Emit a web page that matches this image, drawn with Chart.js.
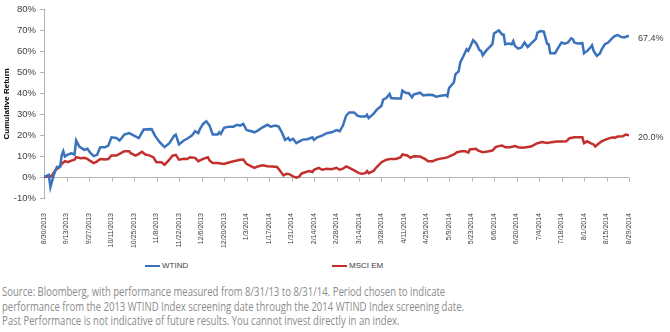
<!DOCTYPE html>
<html>
<head>
<meta charset="utf-8">
<script src="https://cdn.jsdelivr.net/npm/chart.js@4/dist/chart.umd.min.js"></script>
<style>
  body { margin: 0; background: #fff; }
  #wrap { position: relative; width: 670px; height: 332px; overflow: hidden; }
  #chart { position: absolute; left: 0; top: 0; }
  .leg { position: absolute; top: 261px; font: 8px "Liberation Sans Narrow", "Liberation Sans", sans-serif; color: #404040; }
  .leg span { display: inline-block; width: 15px; height: 0; border-top: 2.5px solid; vertical-align: middle; margin-right: 2px; }
  #note { position: absolute; left: 2px; top: 284px; font: 13px "Open Sans", sans-serif; color: #8c8c8c; line-height: 14.5px; transform-origin: 0 0; white-space: nowrap; }
</style>
</head>
<body>
<div id="wrap">
  <canvas id="chart" width="670" height="255"></canvas>
  <div class="leg" style="left:145px"><span style="border-color:#3a72bc"></span>WTIND</div>
  <div class="leg" style="left:332px"><span style="border-color:#c2302e"></span>MSCI EM</div>
  <div id="note">
    <div>Source: Bloomberg, with performance measured from 8/31/13 to 8/31/14. Period chosen to indicate</div>
    <div>performance from the 2013 WTIND Index screening date through the 2014 WTIND Index screening date.</div>
    <div>Past Performance is not indicative of future results. You cannot invest directly in an index.</div>
  </div>
</div>
<script>
// tick labels, one every 14 days starting 8/30/2013
const dateLabels = ["8/30/2013", "9/13/2013", "9/27/2013", "10/11/2013", "10/25/2013", "11/8/2013",
  "11/22/2013", "12/6/2013", "12/20/2013", "1/3/2014", "1/17/2014", "1/31/2014", "2/14/2014",
  "2/28/2014", "3/14/2014", "3/28/2014", "4/11/2014", "4/25/2014", "5/9/2014", "5/23/2014",
  "6/6/2014", "6/20/2014", "7/4/2014", "7/18/2014", "8/1/2014", "8/15/2014", "8/29/2014"];

// days since 8/30/2013 and cumulative return (%)
const wtindDays = [0, 3, 4, 6, 8, 10, 11, 12, 13, 15, 17, 19, 20, 22, 25, 27, 29, 31, 33, 35, 38, 40,
  42, 45, 47, 50, 53, 56, 59, 62, 67, 69, 72, 75, 78, 81, 82, 84, 87, 89, 92, 94, 96, 97, 99, 101,
  103, 105, 108, 109, 110, 112, 115, 118, 120, 122, 124, 126, 129, 131, 133, 136, 139, 141, 144,
  146, 148, 150, 152, 153, 155, 157, 159, 161, 164, 167, 168, 170, 173, 176, 179, 182, 184, 186,
  188, 190, 193, 195, 197, 200, 201, 202, 205, 207, 210, 211, 213, 215, 216, 219, 222, 223, 225,
  227, 229, 230, 234, 236, 239, 242, 244, 247, 250, 251, 252, 255, 256, 258, 259, 261, 263, 264,
  267, 269, 271, 272, 273, 275, 279, 280, 283, 285, 286, 287, 289, 291, 292, 293, 295, 297, 299,
  301, 303, 306, 307, 309, 311, 313, 314, 315, 318, 320, 322, 324, 326, 328, 329, 330, 332, 335,
  336, 338, 340, 341, 342, 344, 346, 347, 349, 351, 353, 355, 357, 359, 361, 363, 364];
const wtind = [0, 1.1, -4.8, 0.8, 4.8, 4.8, 10.3, 12.4, 9.8, 10.8, 11.4, 10.8, 17.5, 14.6, 13, 13.5,
  11.4, 10, 10.6, 14.3, 14.3, 15, 19, 18.7, 17.5, 20.3, 21, 19.8, 18.6, 22.7, 22.9, 19.8, 16.7, 14.3,
  16.2, 19.8, 20.3, 15.6, 17.5, 18.3, 19.8, 21.9, 21, 23, 25.4, 26.7, 24.6, 20.3, 20.3, 21.4, 20.6,
  23.5, 24.1, 24.1, 25, 24.6, 25.4, 22.5, 21.9, 21.4, 22.2, 23.8, 25, 24.1, 24.6, 24.1, 21.4, 17.8,
  18.7, 17.5, 18.3, 16.2, 17.1, 17.9, 18.1, 19, 17.8, 19, 19.8, 21, 21.4, 22.5, 21.9, 24.6, 29.4,
  30.9, 30.9, 29.4, 28.9, 28.9, 29.8, 28.2, 30.2, 32.1, 34.1, 37, 37.8, 39.7, 37.8, 37.6, 37.6, 41.3,
  40.3, 40.1, 38.1, 39.4, 40.3, 39, 39.4, 39.2, 38.4, 38.9, 39.2, 38.6, 42.5, 45.2, 49.2, 50.5, 54.8,
  57.9, 61.1, 60.3, 65.4, 63.8, 60.6, 60.3, 58.2, 60.3, 63.5, 68.6, 70.1, 68.2, 68.2, 63.5, 63.8,
  63.5, 65, 62.7, 61.4, 61.9, 64.3, 62.2, 63.8, 65.9, 69, 69.8, 69.5, 63.8, 63.5, 59.2, 59.2, 61.9,
  64.3, 63.8, 64.3, 66.3, 65.9, 64.3, 63.8, 64, 59.2, 60.3, 61.9, 63, 60.3, 57.9, 59.2, 61.1, 63.5,
  64.3, 65.9, 67.4, 67.9, 67, 66.7, 67.3, 67.4];

const msciDays = [0, 2, 4, 5, 7, 9, 11, 13, 15, 17, 19, 20, 23, 25, 27, 29, 31, 33, 35, 38, 40, 42,
  45, 47, 50, 53, 54, 57, 59, 61, 63, 65, 68, 70, 73, 75, 78, 80, 82, 84, 87, 89, 91, 94, 96, 99,
  102, 103, 105, 108, 112, 115, 118, 120, 122, 124, 126, 129, 131, 133, 136, 139, 142, 145, 147,
  149, 151, 153, 155, 157, 159, 160, 162, 165, 167, 168, 171, 173, 176, 179, 182, 184, 186, 188,
  190, 193, 196, 198, 200, 201, 202, 205, 207, 210, 213, 216, 219, 222, 223, 226, 228, 230, 234,
  237, 239, 242, 244, 246, 250, 252, 255, 257, 260, 262, 264, 265, 269, 270, 273, 276, 279, 281,
  283, 285, 287, 290, 293, 295, 298, 300, 303, 307, 310, 313, 316, 319, 322, 325, 327, 330, 335,
  336, 338, 340, 342, 343, 345, 347, 349, 352, 354, 355, 357, 360, 362, 364];
const msci = [0, 0.3, 0.3, 0.8, 3.2, 4.4, 6.3, 7.6, 7.1, 7.9, 8.3, 9.5, 9, 9.2, 8.7, 7.6, 6.7, 7.5,
  8.6, 8.4, 8.6, 10.3, 10.3, 11.1, 12.4, 12.4, 11.4, 10.3, 11.1, 12.1, 10.8, 10.5, 9.5, 7.1, 7.1, 5.9,
  8.3, 10.3, 10.6, 8.3, 8.7, 8.6, 9.5, 9.2, 7.6, 8.7, 9.5, 7.9, 6.7, 6.7, 6.3, 7, 7.6, 7.9, 8.3, 8.4,
  6.3, 5.1, 4.4, 5.1, 5.6, 5.2, 5.1, 4.8, 2.9, 0.8, 1.6, 1.3, 0.3, -0.3, 0.3, 1.6, 2.2, 2.9, 2.4,
  3.5, 4.4, 3.5, 4, 3.8, 4.4, 3.5, 4, 5.1, 4.4, 3.2, 1.9, 1.6, 1.9, 2.9, 1.9, 2.9, 4.8, 7.1, 8.3,
  8.7, 8.7, 9.5, 10.8, 10.3, 9.2, 10, 9.8, 8.7, 7.6, 7.6, 8.3, 8.7, 9.2, 9.8, 10.8, 11.9, 12.4, 12.4,
  11.7, 13.2, 13.5, 12.7, 11.9, 12.2, 12.7, 14.3, 14.8, 15.1, 14.3, 14.3, 14.8, 14.3, 14, 14.3, 14.6,
  16.2, 16.7, 16.3, 16.7, 17, 17, 17.1, 18.6, 19, 19, 16.2, 17.1, 16.2, 15.6, 14.6, 15.9, 17.1, 17.8,
  18.6, 19, 18.7, 19.4, 19.5, 20.3, 20.0];

const axisColor = "#b3b3b3";
const textColor = "#404040";
const narrow = '"Liberation Sans Narrow", "Liberation Sans", sans-serif';

const toPoints = (days, vals) => days.map((d, i) => ({ x: d, y: vals[i] }));

// x axis line sits at 0% with ticks hanging down, labels stay at the bottom
const zeroAxis = {
  id: "zeroAxis",
  beforeDatasetsDraw(chart) {
    const { ctx, chartArea, scales } = chart;
    const y0 = Math.round(scales.y.getPixelForValue(0)) + 0.5;
    ctx.save();
    ctx.strokeStyle = axisColor;
    ctx.lineWidth = 1;
    ctx.beginPath();
    ctx.moveTo(chartArea.left, y0);
    ctx.lineTo(chartArea.right, y0);
    scales.x.ticks.forEach((t) => {
      const x = Math.round(scales.x.getPixelForValue(t.value)) + 0.5;
      ctx.moveTo(x, y0);
      ctx.lineTo(x, y0 + 4);
    });
    ctx.stroke();
    ctx.restore();
  },
  afterDatasetsDraw(chart) {
    const { ctx, scales } = chart;
    ctx.save();
    ctx.font = "9px " + narrow;
    ctx.fillStyle = textColor;
    ctx.textBaseline = "middle";
    chart.data.datasets.forEach((ds) => {
      const last = ds.data[ds.data.length - 1];
      ctx.fillText(last.y.toFixed(1) + "%", scales.x.getPixelForValue(last.x) + 9, scales.y.getPixelForValue(last.y) + 2);
    });
    ctx.restore();
  },
};

new Chart(document.getElementById("chart"), {
  type: "line",
  data: {
    datasets: [
      {
        label: "WTIND",
        data: toPoints(wtindDays, wtind),
        borderColor: "#3a72bc",
        borderWidth: 2.5,
        pointRadius: 0,
        tension: 0,
      },
      {
        label: "MSCI EM",
        data: toPoints(msciDays, msci),
        borderColor: "#c2302e",
        borderWidth: 2.5,
        pointRadius: 0,
        tension: 0,
      },
    ],
  },
  options: {
    responsive: false,
    animation: false,
    layout: { padding: { top: 9, right: 41, bottom: 0, left: 0 } },
    plugins: { legend: { display: false }, tooltip: { enabled: false } },
    scales: {
      x: {
        type: "linear",
        min: 0,
        max: 364,
        grid: { display: false },
        border: { display: false },
        ticks: {
          stepSize: 14,
          autoSkip: false,
          minRotation: 90,
          maxRotation: 90,
          padding: 7,
          color: textColor,
          font: { family: narrow, size: 7 },
          callback: (v) => dateLabels[v / 14],
        },
        afterFit: (s) => { s.height = 57; },
      },
      y: {
        min: -10,
        max: 80,
        grid: { drawOnChartArea: false, color: axisColor, tickLength: 4 },
        border: { color: axisColor },
        ticks: {
          stepSize: 10,
          padding: 4,
          color: textColor,
          font: { family: narrow, size: 9.5 },
          callback: (v) => v + "%",
        },
        title: {
          display: true,
          text: "Cumulative Return",
          color: "#000",
          font: { family: '"Liberation Sans", sans-serif', size: 8, weight: "bold" },
          padding: { top: 2, bottom: 0 },
        },
        afterFit: (s) => { s.width = 44; },
      },
    },
  },
  plugins: [zeroAxis],
});

// squeeze footnote to the width it has in the picture
const note = document.getElementById("note");
const w = Math.max(...[...note.children].map((d) => d.getBoundingClientRect().width));
note.style.transform = "scaleX(" + (462 / w) + ")";
</script>
</body>
</html>
